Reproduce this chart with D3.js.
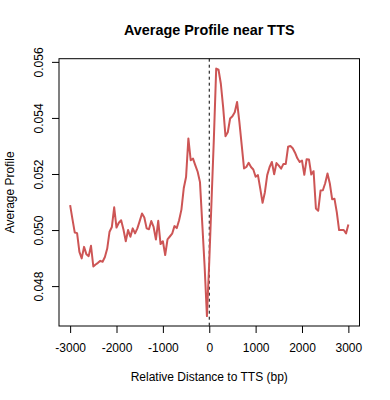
<!DOCTYPE html>
<html>
<head>
<meta charset="utf-8">
<script src="https://cdn.jsdelivr.net/npm/d3@7"></script>
<style>
  html, body { margin: 0; padding: 0; background: #fff; }
  svg { display: block; font-family: "Liberation Sans", Arial, Helvetica, sans-serif; }
</style>
</head>
<body>
<svg id="chart" width="390" height="400"></svg>
<script>
// ---- data ----
const distStart = -3000;
const distStep = 50;
const profile = [
  0.05089, 0.05039, 0.04991, 0.04989, 0.04922, 0.04899, 0.04940, 0.04914, 0.04907, 0.04944,
  0.04870, 0.04877, 0.04883, 0.04890, 0.04887, 0.04904, 0.04934, 0.04994, 0.05011, 0.05081,
  0.05009, 0.05026, 0.05035, 0.05002, 0.04960, 0.05000, 0.04976, 0.05006, 0.04988, 0.05006,
  0.05032, 0.05059, 0.05045, 0.05006, 0.05003, 0.05032, 0.05011, 0.04966, 0.05033, 0.04950,
  0.04960, 0.04911, 0.04967, 0.04977, 0.04987, 0.05014, 0.05007, 0.05035, 0.05073, 0.05149,
  0.05189, 0.05327, 0.05249, 0.05255, 0.05231, 0.05208, 0.05171, 0.05021, 0.04871, 0.04693,
  0.04886, 0.05107, 0.05328, 0.05576, 0.05572, 0.05522, 0.05438, 0.05335, 0.05349, 0.05398,
  0.05406, 0.05420, 0.05457, 0.05385, 0.05303, 0.05220, 0.05225, 0.05240, 0.05225, 0.05216,
  0.05190, 0.05196, 0.05148, 0.05097, 0.05135, 0.05196, 0.05224, 0.05243, 0.05199, 0.05239,
  0.05230, 0.05219, 0.05236, 0.05236, 0.05297, 0.05300, 0.05292, 0.05276, 0.05256, 0.05243,
  0.05248, 0.05197, 0.05253, 0.05252, 0.05198, 0.05210, 0.05077, 0.05069, 0.05141, 0.05142,
  0.05167, 0.05202, 0.05166, 0.05110, 0.05112, 0.05064, 0.05000, 0.05000, 0.05000, 0.04988,
  0.05020
];
const distance = profile.map((_, i) => distStart + i * distStep);
const xTicks = [-3000, -2000, -1000, 0, 1000, 2000, 3000];
const xTickLabels = ["-3000", "-2000", "-1000", "0", "1000", "2000", "3000"];
const yTicks = [0.048, 0.050, 0.052, 0.054, 0.056];
const yTickLabels = ["0.048", "0.050", "0.052", "0.054", "0.056"];
const titleText = "Average Profile near TTS";
const xLabel = "Relative Distance to TTS (bp)";
const yLabel = "Average Profile";
const lineColor = "#CD5555";

// ---- layout ----
const mLeft = 59, mRight = 359.5, mTop = 58.7, mBottom = 326;
const svg = d3.select("#chart");

function padExtent(ext) {
  const d = (ext[1] - ext[0]) * 0.04;
  return [ext[0] - d, ext[1] + d];
}
const x = d3.scaleLinear().domain(padExtent(d3.extent(distance))).range([mLeft, mRight]);
const y = d3.scaleLinear().domain(padExtent(d3.extent(profile))).range([mBottom, mTop]);

// dashed line at 0
svg.append("line")
  .attr("x1", x(0)).attr("x2", x(0))
  .attr("y1", mTop).attr("y2", mBottom)
  .attr("stroke", "#000").attr("stroke-width", 1)
  .attr("stroke-dasharray", "3,3");

// profile line
const line = d3.line().x((d, i) => x(distance[i])).y(d => y(d));
svg.append("path")
  .datum(profile)
  .attr("d", line)
  .attr("fill", "none")
  .attr("stroke", lineColor)
  .attr("stroke-width", 2)
  .attr("stroke-linejoin", "round");

// box
svg.append("rect")
  .attr("x", mLeft).attr("y", mTop)
  .attr("width", mRight - mLeft).attr("height", mBottom - mTop)
  .attr("fill", "none").attr("stroke", "#000").attr("stroke-width", 1);

// x axis
const gx = svg.append("g").attr("transform", `translate(0,${mBottom})`)
  .call(d3.axisBottom(x).tickValues(xTicks).tickSize(7).tickSizeOuter(0)
    .tickFormat((d, i) => xTickLabels[i]));
gx.select(".domain").remove();
gx.selectAll(".tick line").attr("stroke", "#000");
gx.selectAll(".tick text")
  .attr("y", 21.6).attr("dy", "0.35em")
  .attr("font-size", 12).attr("fill", "#000")
  .style("font-family", "Liberation Sans, Arial, sans-serif");

// y axis
const gy = svg.append("g").attr("transform", `translate(${mLeft},0)`)
  .call(d3.axisLeft(y).tickValues(yTicks).tickSize(7).tickSizeOuter(0)
    .tickFormat((d, i) => yTickLabels[i]));
gy.select(".domain").remove();
gy.selectAll(".tick line").attr("stroke", "#000");
gy.selectAll(".tick text")
  .attr("transform", "rotate(-90)")
  .attr("x", 0).attr("y", -20).attr("dy", "0.35em")
  .attr("text-anchor", "middle")
  .attr("font-size", 12).attr("fill", "#000")
  .style("font-family", "Liberation Sans, Arial, sans-serif");

// labels
svg.append("text")
  .attr("x", (mLeft + mRight) / 2).attr("y", 376.5).attr("dy", "0.35em")
  .attr("text-anchor", "middle").attr("font-size", 12)
  .text(xLabel);

svg.append("text")
  .attr("transform", `translate(10,${(mTop + mBottom) / 2}) rotate(-90)`)
  .attr("dy", "0.35em")
  .attr("text-anchor", "middle").attr("font-size", 12)
  .text(yLabel);

svg.append("text")
  .attr("x", (mLeft + mRight) / 2).attr("y", 30).attr("dy", "0.35em")
  .attr("text-anchor", "middle").attr("font-size", 14.4).attr("font-weight", "bold")
  .text(titleText);
</script>
</body>
</html>
